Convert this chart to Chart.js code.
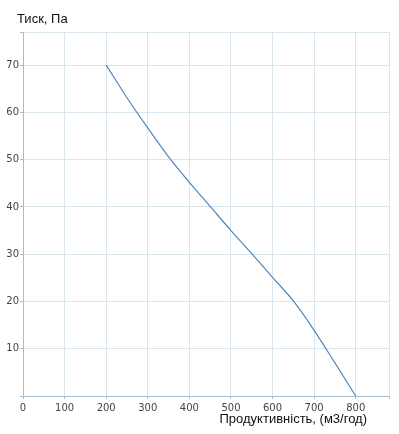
<!DOCTYPE html>
<html lang="uk">
<head>
    <meta charset="UTF-8" />
    <title>Тиск / Продуктивність</title>
    <script src="https://cdn.jsdelivr.net/npm/chart.js"></script>
    <style>
        html, body { margin: 0; padding: 0; background: #fff; }
        #wrap { width: 399px; height: 434px; }
    </style>
</head>
<body>
    <div id="wrap"><canvas id="fanChart" width="399" height="434"></canvas></div>
    <script>
        // Curve: flow (m3/h) vs pressure (Pa)
        const flowValues = [200, 250, 300, 350, 400, 450, 500, 550, 600, 650, 700, 750, 800];
        const pressureValues = [70, 63.1, 56.7, 50.6, 45.2, 40.1, 35, 30.1, 25.1, 20.1, 13.9, 7, 0];
        const xTicks = [0, 100, 200, 300, 400, 500, 600, 700, 800];
        const yTicks = [10, 20, 30, 40, 50, 60, 70];
        const xMax = 880;
        const yMax = 77;

        const yTitle = 'Тиск, Па';
        const xTitle = 'Продуктивність, (м3/год)';

        const gridColor = '#d9e6ee';
        const axisColor = '#a8bccb';
        const tickFont = { family: '"DejaVu Sans", Verdana, sans-serif', size: 10 };

        // axis titles are drawn at fixed spots like the original
        const titlesPlugin = {
            id: 'titles',
            afterDraw(chart) {
                const ctx = chart.ctx;
                ctx.save();
                ctx.fillStyle = '#111';
                ctx.font = '13px "Liberation Sans", Arial, sans-serif';
                ctx.textBaseline = 'alphabetic';
                ctx.textAlign = 'left';
                ctx.fillText(yTitle, 17, 23);
                ctx.textAlign = 'right';
                ctx.fillText(xTitle, 367, 423);
                ctx.restore();
            }
        };

        new Chart(document.getElementById('fanChart'), {
            type: 'line',
            data: {
                datasets: [{
                    data: flowValues.map((f, i) => ({ x: f, y: pressureValues[i] })),
                    borderColor: '#5385bb',
                    borderWidth: 1.2,
                    pointRadius: 0,
                    cubicInterpolationMode: 'monotone',
                    fill: false
                }]
            },
            options: {
                responsive: false,
                animation: false,
                layout: { padding: { top: 32, right: 10, left: 0, bottom: 0 } },
                plugins: {
                    legend: { display: false },
                    tooltip: { enabled: false }
                },
                scales: {
                    x: {
                        type: 'linear',
                        min: 0,
                        max: xMax,
                        afterBuildTicks: s => { s.ticks = xTicks.concat([xMax]).map(v => ({ value: v })); },
                        afterFit: s => { s.height = 38; },
                        ticks: {
                            color: '#444',
                            font: tickFont,
                            padding: 3,
                            maxRotation: 0,
                            autoSkip: false,
                            callback: v => (xTicks.includes(v) ? String(v) : '')
                        },
                        grid: { color: gridColor, tickLength: 3, tickColor: axisColor },
                        border: { color: axisColor }
                    },
                    y: {
                        min: 0,
                        max: yMax,
                        afterBuildTicks: s => { s.ticks = [0].concat(yTicks, [yMax]).map(v => ({ value: v })); },
                        afterFit: s => { s.width = 23; },
                        ticks: {
                            color: '#444',
                            font: tickFont,
                            padding: 1,
                            autoSkip: false,
                            callback: v => (yTicks.includes(v) ? String(v) : '')
                        },
                        grid: { color: gridColor, tickLength: 3, tickColor: axisColor },
                        border: { color: axisColor }
                    }
                }
            },
            plugins: [titlesPlugin]
        });
    </script>
</body>
</html>
